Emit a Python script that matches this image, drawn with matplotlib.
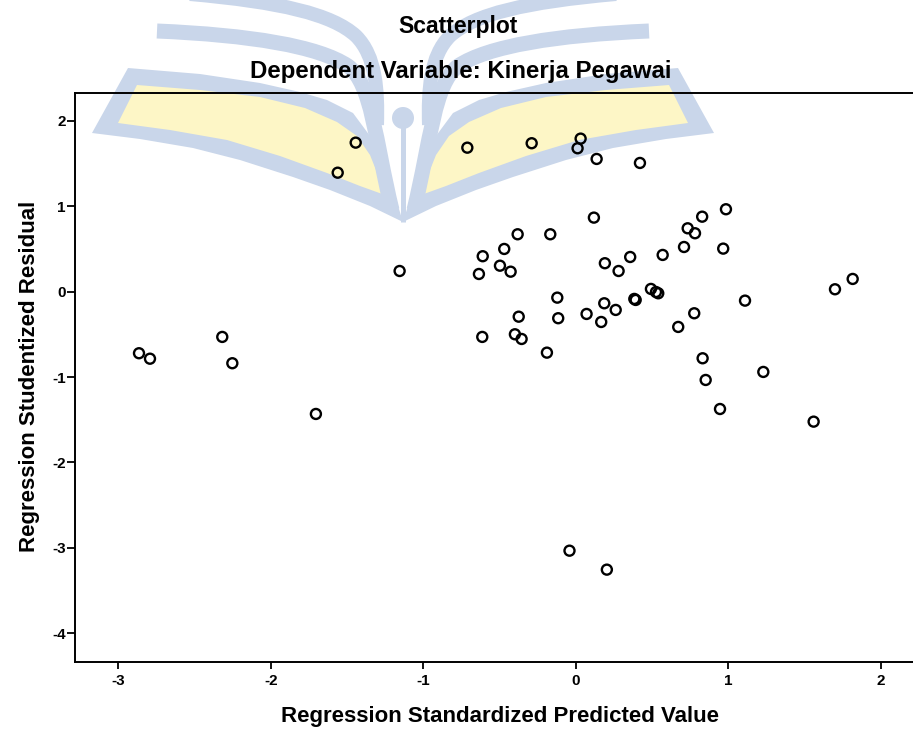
import matplotlib
matplotlib.use("Agg")
import matplotlib.pyplot as plt
from matplotlib.path import Path
from matplotlib.patches import PathPatch, Circle

plt.rcParams['font.family'] = ['Liberation Sans', 'DejaVu Sans']
plt.rcParams['axes.unicode_minus'] = False

# Regression Standardized Predicted Value
pred = [-2.864, -2.792, -2.318, -2.252, -1.704, -1.561, -1.443, -1.155, -0.711, -0.289,
        0.032, 0.012, 0.137, 0.421, 0.985, 0.829, 0.734, 0.782, 0.119, -0.381,
        -0.167, -0.469, -0.610, -0.497, -0.427, -0.635, 0.191, 0.281, 0.357, 0.570,
        0.710, 0.967, 1.816, 1.700, 1.110, 0.493, 0.541, 0.526, 0.393, 0.384,
        -0.121, 0.187, 0.262, 0.071, 0.167, -0.374, -0.115, 0.777, 0.672, -0.613,
        -0.399, -0.355, -0.189, 0.832, 1.230, 0.852, 0.946, 1.560, -0.041, 0.204]

# Regression Studentized Residual
resid = [-0.721, -0.785, -0.530, -0.838, -1.432, 1.393, 1.745, 0.242, 1.686, 1.738,
         1.792, 1.679, 1.554, 1.507, 0.965, 0.878, 0.742, 0.684, 0.867, 0.672,
         0.672, 0.500, 0.415, 0.304, 0.234, 0.207, 0.333, 0.242, 0.406, 0.430,
         0.523, 0.504, 0.149, 0.028, -0.105, 0.032, -0.019, -0.004, -0.097, -0.085,
         -0.070, -0.136, -0.214, -0.261, -0.355, -0.293, -0.311, -0.253, -0.413, -0.530,
         -0.499, -0.554, -0.714, -0.780, -0.940, -1.034, -1.374, -1.522, -3.033, -3.255]

xticks = [-3, -2, -1, 0, 1, 2]
yticks = [-4, -3, -2, -1, 0, 1, 2]

W, H = 913, 730
fig = plt.figure(figsize=(W / 100, H / 100), dpi=100, facecolor='white')

# --- watermark (logo behind the plot), drawn in pixel coords ---
BLUE = '#c9d6ea'
YELLOW = '#fdf6c6'
wm = fig.add_axes([0, 0, 1, 1], zorder=0)
wm.set_xlim(0, W)
wm.set_ylim(H, 0)
wm.axis('off')

CX = 806  # mirror line (x = 403)


def mirror(pts):
    return [(CX - x, y) for x, y in pts]


def curve(pts, width, color):
    # first point is the start, then groups of three for cubic segments
    codes = [Path.MOVETO] + [Path.CURVE4] * (len(pts) - 1)
    wm.add_patch(PathPatch(Path(pts, codes), fill=False, lw=width * 0.72,
                           edgecolor=color, capstyle='butt', joinstyle='round'))


wing_outer = [(128, 68), (200, 74), (260, 83), (300, 92), (327, 100), (353, 113),
              (373, 140), (388, 173), (403, 222), (370, 206), (330, 190), (293, 177),
              (240, 160), (193, 148), (140, 139), (92, 133)]
wing_inner = [(137, 85), (200, 90), (260, 97), (305, 108), (337, 122), (357, 136),
              (370, 155), (380, 180), (385, 195), (360, 186), (327, 173), (280, 156),
              (227, 140), (170, 130), (118, 123)]

mid_band = [(157, 31), (250, 35), (318, 46), (348, 66),
            (372, 84), (375, 140), (392, 210)]
top_band = [(190, -6), (280, 2), (332, 14), (356, 36),
            (376, 56), (378, 90), (377, 125)]

for side in (lambda p: p, mirror):
    o = side(wing_outer)
    wm.fill([p[0] for p in o], [p[1] for p in o], color=BLUE, lw=0)
    i = side(wing_inner)
    wm.fill([p[0] for p in i], [p[1] for p in i], color=YELLOW, lw=0)
    curve(side(mid_band), 15, BLUE)
    curve(side(top_band), 14, BLUE)

wm.plot([403, 403], [125, 222], color=BLUE, lw=5 * 0.72, solid_capstyle='butt')
wm.add_patch(Circle((403, 118), 11, color=BLUE, lw=0))

# --- scatterplot ---
ax = fig.add_axes([0.0821, 0.0932, 0.931, 0.7795], zorder=1)
ax.set_facecolor('none')
ax.scatter(pred, resid, s=52, facecolors='none', edgecolors='black', linewidths=1.7)

ax.set_xlim(-3.284, 2.290)
ax.set_ylim(-4.336, 2.327)
ax.set_xticks(xticks)
ax.set_yticks(yticks)
ax.set_xticklabels([str(t) for t in xticks], fontsize=11, fontweight='bold')
ax.set_yticklabels([str(t) for t in yticks], fontsize=11, fontweight='bold')
ax.tick_params(axis='x', direction='out', length=5, width=1.3, pad=4)
ax.tick_params(axis='y', direction='out', length=5.5, width=1.3, pad=1)

for s in ('left', 'bottom', 'top'):
    ax.spines[s].set_linewidth(1.4)
ax.spines['right'].set_visible(False)

fig.text(0.502, 0.964, 'Scatterplot', ha='center', va='center',
         fontsize=16.5, fontweight='bold')
fig.text(0.505, 0.902, 'Dependent Variable: Kinerja Pegawai', ha='center', va='center',
         fontsize=17.3, fontweight='bold')
fig.text(0.548, 0.018, 'Regression Standardized Predicted Value', ha='center', va='center',
         fontsize=16, fontweight='bold')
fig.text(0.032, 0.485, 'Regression Studentized Residual', ha='center', va='center',
         rotation=90, fontsize=16, fontweight='bold')

fig.savefig('out.png', dpi=100, facecolor='white')
